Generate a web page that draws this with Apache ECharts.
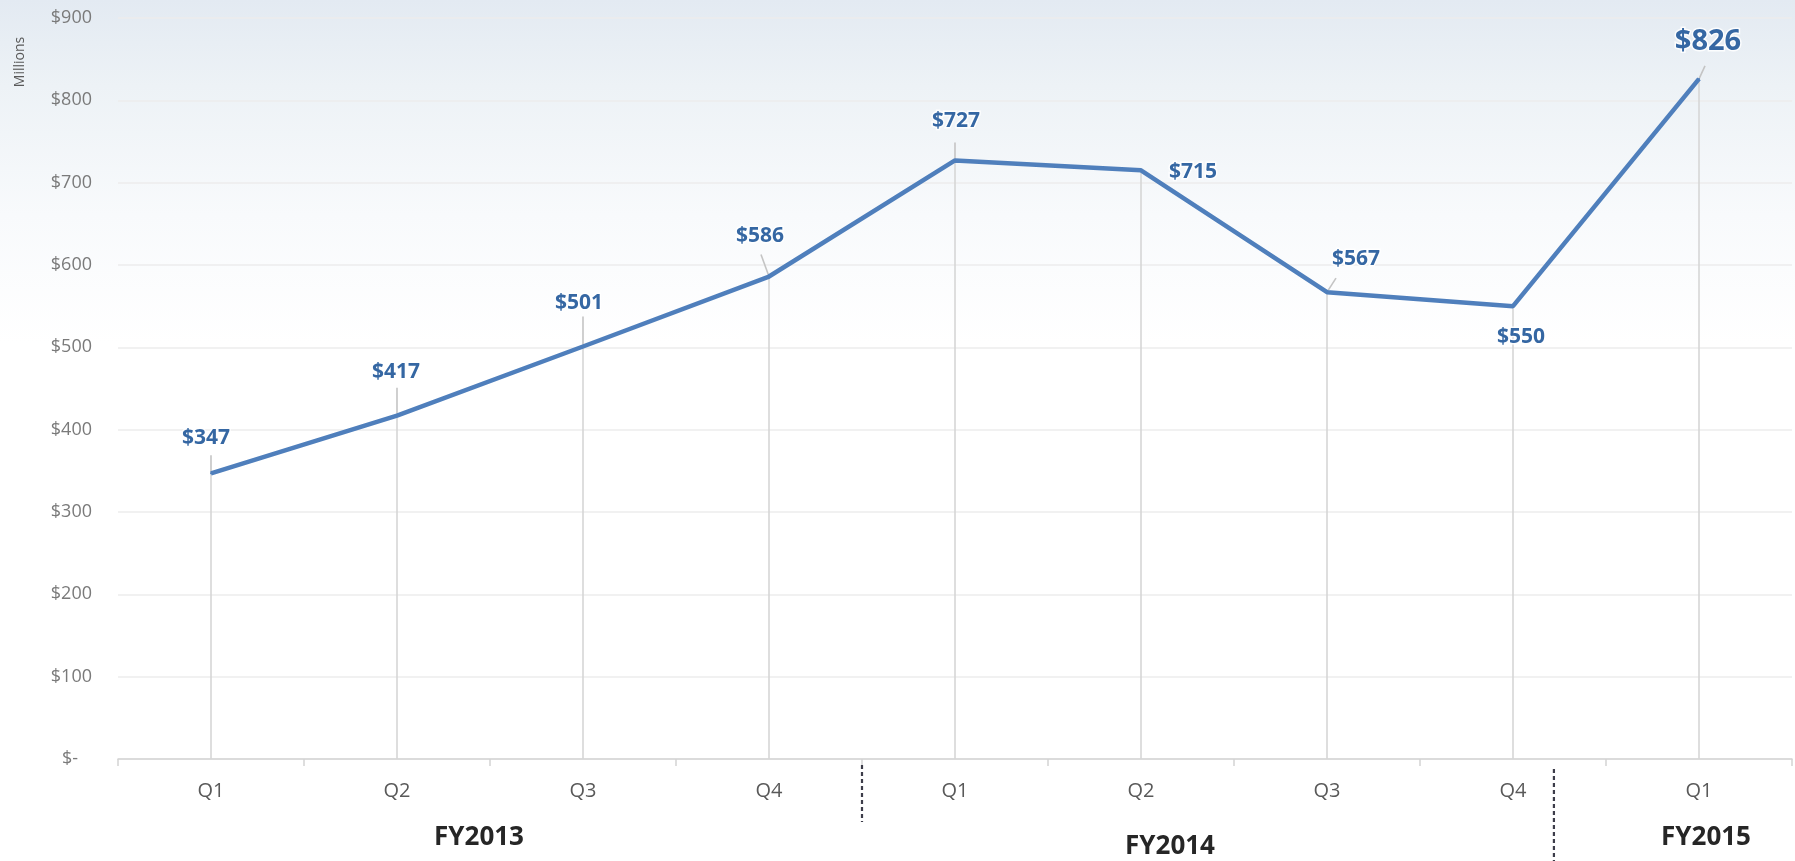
<!DOCTYPE html>
<html>
<head>
<meta charset="utf-8">
<script src="https://cdn.jsdelivr.net/npm/echarts@6/dist/echarts.min.js"></script>
<style>
html,body{margin:0;padding:0;background:#fff;}
#chart{width:1795px;height:861px;}
</style>
</head>
<body>
<div id="chart"></div>
<script>
// ---- data ----
var categories = ['Q1','Q2','Q3','Q4','Q1','Q2','Q3','Q4','Q1'];
var revenue = [347, 417, 501, 586, 727, 715, 567, 550, 826];
var fiscalYears = ['FY2013','FY2014','FY2015'];
var yTicks = [0,100,200,300,400,500,600,700,800,900];

// ---- layout (pixels / style, not data) ----
var labelOffsets = [[-5,-35],[-1,-44],[-4,-43],[-9,-41],[1,-39],[52,2],[29,-33],[8,31],[9,-37]];
var leaderEnds   = [[0,-18],[0,-28],[0,-30],[-8,-22],[0,-18],[0,0],[9,-14],[0,0],[6,-13]];
var separatorIdx = [3.5, 7.22];
var separatorSpan = [[6,63],[10,110]];
var fyPos = [[479,838],[1170,847],[1706,838]];

var chart = echarts.init(document.getElementById('chart'));

var lineData = revenue.map(function(v,i){
  var big = (i === revenue.length-1);
  return {
    value: v,
    label: {
      offset: labelOffsets[i],
      fontSize: big ? 29 : 21
    }
  };
});

var option = {
  animation: false,
  backgroundColor: '#ffffff',
  graphic: [
    {
      type: 'rect', left: 0, top: 0, z: -100, silent: true,
      shape: {width: 1795, height: 861},
      style: {
        fill: new echarts.graphic.LinearGradient(0,0,0,1,[
          {offset:0, color:'#e3eaf2'},
          {offset:0.1, color:'#edf2f6'},
          {offset:0.25, color:'#f8fafc'},
          {offset:0.4, color:'#ffffff'},
          {offset:1, color:'#ffffff'}
        ])
      }
    },
    {
      type: 'text', x: 20, y: 62, rotation: Math.PI/2, silent: true,
      style: {text:'Millions', fill:'#595959', font:'14px "Open Sans"', align:'center', verticalAlign:'middle', textAlign:'center', textVerticalAlign:'middle'}
    }
  ].concat(fiscalYears.map(function(t,i){
    return {
      type:'text', x: fyPos[i][0], y: fyPos[i][1], silent:true,
      style:{text:t, fill:'#262626', font:'bold 26px "Open Sans"', align:'center', verticalAlign:'middle', textAlign:'center', textVerticalAlign:'middle'}
    };
  })),
  grid: {left: 118, right: 3, top: 18, bottom: 102, containLabel: false},
  xAxis: {
    type: 'category',
    data: categories,
    boundaryGap: true,
    axisLine: {show: true, lineStyle: {color: '#d4d4d4', width: 1.5}},
    axisTick: {show: true, length: 7, lineStyle: {color: '#d4d4d4', width: 1.5}},
    axisLabel: {color: '#595959', fontSize: 20, fontFamily: 'Open Sans', margin: 22},
    splitLine: {show: false}
  },
  yAxis: {
    type: 'value',
    min: yTicks[0], max: yTicks[yTicks.length-1], interval: 100,
    axisLine: {show: false},
    axisTick: {show: false},
    axisLabel: {
      color: '#7a7a7a', fontSize: 18, fontFamily: 'Open Sans', margin: 26,
      formatter: function(v){ return v === 0 ? '$-   ' : '$' + v; }
    },
    splitLine: {show: true, lineStyle: {color: '#ededed', width: 1.5}}
  },
  series: [
    {
      type: 'custom',
      z: 1,
      silent: true,
      clip: false,
      data: revenue.map(function(v,i){ return [i, v]; }),
      renderItem: function(params, api){
        var i = api.value(0), v = api.value(1);
        var p0 = api.coord([i, 0]);
        var p1 = api.coord([i, v]);
        var le = leaderEnds[params.dataIndex];
        return {
          type: 'group',
          children: [
            {type:'line', shape:{x1:p0[0], y1:p0[1], x2:p1[0], y2:p1[1]}, style:{stroke:'#d6d6d6', lineWidth:1.6}},
            {type:'line', shape:{x1:p1[0], y1:p1[1], x2:p1[0]+le[0], y2:p1[1]+le[1]}, style:{stroke:'#c4c4c4', lineWidth:1.6}}
          ]
        };
      }
    },
    {
      type: 'custom',
      z: 1,
      silent: true,
      clip: false,
      data: separatorIdx.map(function(x){ return [Math.floor(x), 0]; }),
      renderItem: function(params, api){
        var pos = separatorIdx[params.dataIndex];
        var base = Math.floor(pos), frac = pos - base;
        var pa = api.coord([base, 0]);
        var pb = api.coord([base + 1, 0]);
        var x = pa[0] + frac * (pb[0] - pa[0]);
        var s = separatorSpan[params.dataIndex];
        return {
          type:'line',
          shape:{x1:x, y1:pa[1]+s[0], x2:x, y2:pa[1]+s[1]},
          style:{stroke:'#3d3d4a', lineWidth:2.2, lineDash:[4,3]}
        };
      }
    },
    {
      type: 'line',
      z: 3,
      data: lineData,
      symbol: 'circle',
      symbolSize: 2,
      showSymbol: true,
      itemStyle: {color: '#4f7fbc'},
      lineStyle: {color: '#4f7fbc', width: 4.5},
      label: {
        show: true,
        position: 'inside',
        color: '#3567a3',
        fontFamily: 'Open Sans',
        fontWeight: 'bold',
        fontSize: 21,
        textBorderColor: 'rgba(255,255,255,0.85)',
        textBorderWidth: 3,
        formatter: function(p){ return '$' + p.value; }
      }
    }
  ]
};

chart.setOption(option);
</script>
</body>
</html>
